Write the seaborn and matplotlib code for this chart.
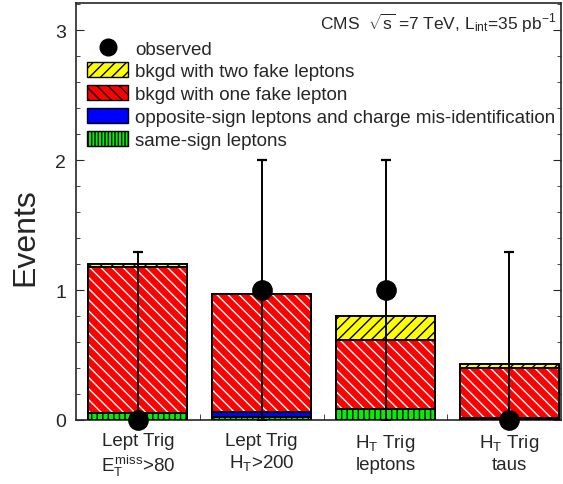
import numpy as np
import seaborn as sns
import matplotlib.pyplot as plt
from matplotlib.patches import Patch
from matplotlib.lines import Line2D
from matplotlib.ticker import MultipleLocator, FixedLocator

# values
categories = ["Lept Trig\n$E_T^{miss}$>80", "Lept Trig\n$H_T$>200",
              "$H_T$ Trig\nleptons", "$H_T$ Trig\ntaus"]
same_sign = [0.05, 0.02, 0.085, 0.013]
charge_misid = [0.0, 0.045, 0.0, 0.0]
one_fake = [1.13, 0.905, 0.53, 0.39]
two_fake = [0.02, 0.0, 0.185, 0.027]
observed = [0, 1, 1, 0]
obs_err_lo = [0, 1, 1, 0]
obs_err_hi = [1.29, 1.0, 1.0, 1.29]

sns.set_style("ticks")
plt.rcParams['font.family'] = ['Liberation Sans', 'DejaVu Sans']
plt.rcParams['mathtext.fontset'] = 'custom'
plt.rcParams['mathtext.rm'] = 'Liberation Sans'
plt.rcParams['mathtext.it'] = 'Liberation Sans'
plt.rcParams['hatch.linewidth'] = 1.0

fig = plt.figure(figsize=(5.63, 4.85), dpi=100)
ax = fig.add_axes([0.135, 0.132, 0.862, 0.86])

lay1 = np.array(same_sign)
lay2 = lay1 + np.array(charge_misid)
lay3 = lay2 + np.array(one_fake)
lay4 = lay3 + np.array(two_fake)

yellow, red, blue, green = "#ffff00", "#ff0000", "#0000ff", "#00f000"
layers = [
    (lay4, yellow, "black", "///"),
    (lay3, red, "white", "\\\\\\"),
    (lay2, blue, blue, None),
    (lay1, green, "black", "|||"),
]
for cum, fc, hc, hatch in layers:
    sns.barplot(x=categories, y=cum, color=fc, saturation=1, width=0.8,
                edgecolor=hc, linewidth=0, hatch=hatch, ax=ax, zorder=2)
# black outlines of each layer
for cum, fc, hc, hatch in layers:
    sns.barplot(x=categories, y=cum, fill=False, color="black", width=0.8,
                linewidth=1.4, ax=ax, zorder=3)

xpos = np.arange(len(categories))
ax.errorbar(xpos, observed, yerr=[obs_err_lo, obs_err_hi], fmt="none",
            ecolor="black", elinewidth=1.4, capsize=3.5, capthick=1.6, zorder=4)
sns.scatterplot(x=xpos, y=observed, color="black", s=190, edgecolor="black",
                ax=ax, zorder=5, clip_on=False, legend=False)

ax.set_xlim(-0.5, 3.42)
ax.set_ylim(0, 3.21)
ax.set_ylabel("Events", fontsize=23)
ax.yaxis.set_label_coords(-0.073, 0.441)
ax.yaxis.set_major_locator(MultipleLocator(1))
ax.yaxis.set_minor_locator(MultipleLocator(0.2))
ax.xaxis.set_minor_locator(FixedLocator([0.5, 1.5, 2.5]))
ax.tick_params(axis="y", which="both", direction="in", right=True, labelsize=14, pad=7)
ax.tick_params(axis="y", which="major", length=5.5)
ax.tick_params(axis="y", which="minor", length=3)
ax.tick_params(axis="x", which="major", length=0, labelsize=13.5, pad=9)
ax.tick_params(axis="x", which="minor", direction="in", length=4)
for sp in ax.spines.values():
    sp.set_linewidth(1.2)

ax.text(0.99, 0.981, r"CMS  $\sqrt{s}$ =7 TeV, L$_{\mathrm{int}}$=35 pb$^{-1}$",
        transform=ax.transAxes, ha="right", va="top", fontsize=12.5)

handles = [
    Line2D([], [], marker="o", color="black", linestyle="none", markersize=12),
    Patch(facecolor=yellow, edgecolor="black", hatch="///"),
    Patch(facecolor=red, edgecolor="black", hatch="\\\\\\"),
    Patch(facecolor=blue, edgecolor="black"),
    Patch(facecolor=green, edgecolor="black", hatch="|||||"),
]
labels = ["observed", "bkgd with two fake leptons", "bkgd with one fake lepton",
          "opposite-sign leptons and charge mis-identification", "same-sign leptons"]
ax.legend(handles, labels, loc="upper left", bbox_to_anchor=(0.007, 0.93),
          frameon=False, fontsize=13.5, handlelength=2.2, handleheight=0.85,
          labelspacing=0.26, handletextpad=0.37, borderaxespad=0, borderpad=0.4)

fig.savefig("out.png", dpi=100)
